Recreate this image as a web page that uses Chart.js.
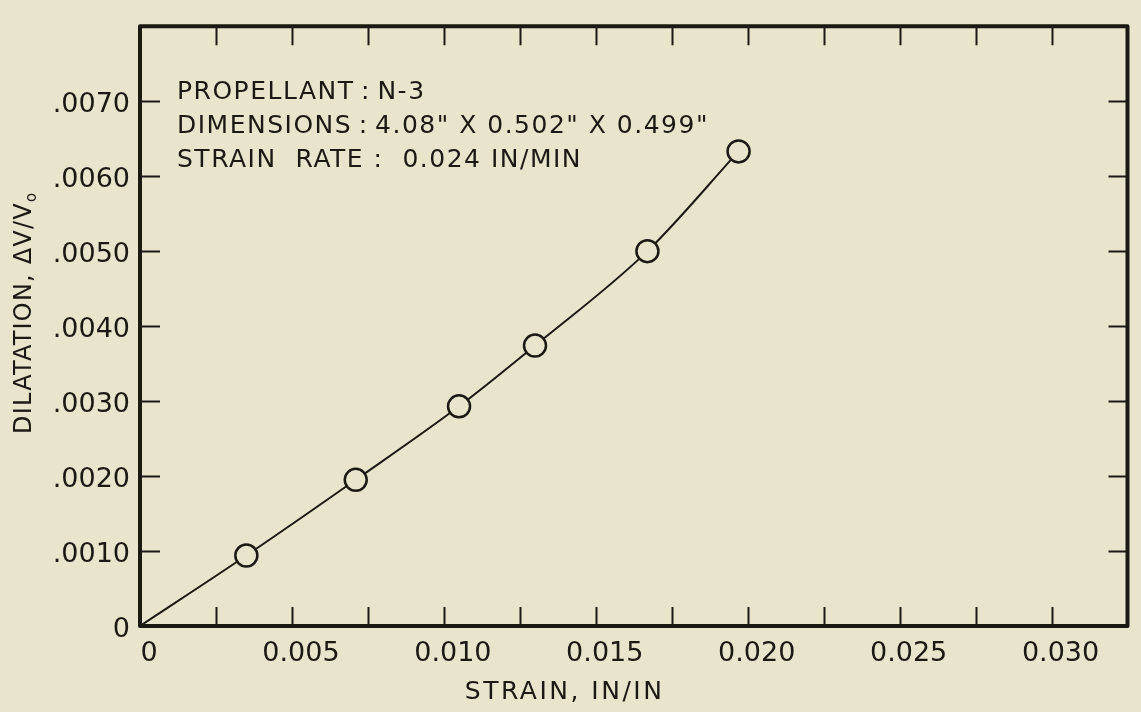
<!DOCTYPE html>
<html>
<head>
<meta charset="utf-8">
<script src="https://cdn.jsdelivr.net/npm/chart.js@4.4.1/dist/chart.umd.min.js"></script>
<style>
  html, body { margin: 0; padding: 0; background: #e8e5cc; }
  #wrap { width: 1141px; height: 712px; }
</style>
</head>
<body>
<div id="wrap"><canvas id="chart" width="1141" height="712"></canvas></div>
<script>
// Measured dilatation of propellant N-3 versus strain
const strain     = [0, 0.0035, 0.0071, 0.0105, 0.0130, 0.0167, 0.0197];
const dilatation = [0, 0.00094, 0.00195, 0.00293, 0.00374, 0.0050, 0.00633];

// Axis ticks (every mark gets a tick, only some get a label)
const strainTicks = [0, 0.0025, 0.005, 0.0075, 0.010, 0.0125, 0.015, 0.0175, 0.020, 0.0225, 0.025, 0.0275, 0.030, 0.0325];
const strainTickLabels = ['0', '', '0.005', '', '0.010', '', '0.015', '', '0.020', '', '0.025', '', '0.030', ''];
const dilatationTicks = [0, 0.001, 0.002, 0.003, 0.004, 0.005, 0.006, 0.007, 0.008];
const dilatationTickLabels = ['0', '.0010', '.0020', '.0030', '.0040', '.0050', '.0060', '.0070', ''];

// Text
const noteLines = [
  'PROPELLANT\u2009:\u2009N-3',
  'DIMENSIONS\u2009:\u20094.08" X 0.502" X 0.499"',
  'STRAIN  RATE :  0.024 IN/MIN'
];
const xTitle = 'STRAIN, IN/IN';
const yTitle = 'DILATATION, \u0394V/V';
const yTitleSub = 'o';

const INK = '#1c1814';
const PAPER = '#e8e5cc';
const FONT = '"DejaVu Sans", "Noto Sans", sans-serif';
const TICK = 19;

// Paper background
const paperPlugin = {
  id: 'paper',
  beforeDraw(chart) {
    const ctx = chart.ctx;
    ctx.save();
    ctx.fillStyle = PAPER;
    ctx.fillRect(0, 0, chart.width, chart.height);
    ctx.restore();
  }
};

// Boxed frame with inward ticks, note block and axis titles
const framePlugin = {
  id: 'frame',
  afterDatasetsDraw(chart) {
    const { ctx, chartArea: a, scales: { x, y } } = chart;
    ctx.save();
    ctx.strokeStyle = INK;
    ctx.lineJoin = 'round';
    ctx.lineWidth = 4;
    ctx.strokeRect(a.left, a.top, a.right - a.left, a.bottom - a.top);

    ctx.lineWidth = 2;
    ctx.beginPath();
    x.ticks.forEach(t => {
      if (t.value <= x.min || t.value >= x.max) return;
      const px = Math.round(x.getPixelForValue(t.value)) + 0.5;
      ctx.moveTo(px, a.bottom); ctx.lineTo(px, a.bottom - TICK);
      ctx.moveTo(px, a.top);    ctx.lineTo(px, a.top + TICK);
    });
    y.ticks.forEach(t => {
      if (t.value <= y.min || t.value >= y.max) return;
      const py = Math.round(y.getPixelForValue(t.value)) + 0.5;
      ctx.moveTo(a.left, py);  ctx.lineTo(a.left + TICK + 1, py);
      ctx.moveTo(a.right, py); ctx.lineTo(a.right - TICK, py);
    });
    ctx.stroke();

    ctx.fillStyle = INK;
    ctx.textAlign = 'left';
    ctx.textBaseline = 'alphabetic';
    ctx.font = '25px ' + FONT;
    ctx.letterSpacing = '1.5px';
    noteLines.forEach((line, i) => {
      ctx.fillText(line, a.left + 37, a.top + 73 + i * 34);
    });

    // horizontal axis title
    ctx.font = '25px ' + FONT;
    ctx.letterSpacing = '2.5px';
    ctx.textAlign = 'center';
    ctx.fillText(xTitle, a.left + (a.right - a.left) * 0.43, 699);

    // vertical axis title, read bottom to top
    ctx.translate(31, 312);
    ctx.rotate(-Math.PI / 2);
    ctx.font = '24px ' + FONT;
    ctx.letterSpacing = '1.2px';
    ctx.textAlign = 'left';
    const w = ctx.measureText(yTitle).width;
    const sub = 12;
    const start = -(w + sub) / 2;
    ctx.fillText(yTitle, start, 0);
    ctx.font = '15px ' + FONT;
    ctx.letterSpacing = '0px';
    ctx.fillText(yTitleSub, start + w, 5);
    ctx.restore();
  }
};

new Chart(document.getElementById('chart'), {
  type: 'line',
  data: {
    datasets: [{
      data: strain.map((s, i) => ({ x: s, y: dilatation[i] })),
      borderColor: INK,
      borderWidth: 2,
      cubicInterpolationMode: 'monotone',
      pointRadius: ctx => (ctx.dataIndex === 0 ? 0 : 11),
      pointHoverRadius: ctx => (ctx.dataIndex === 0 ? 0 : 11),
      pointBorderWidth: 2.5,
      pointBorderColor: INK,
      pointBackgroundColor: PAPER,
      fill: false,
      clip: false
    }]
  },
  options: {
    responsive: false,
    animation: false,
    devicePixelRatio: 1,
    layout: { padding: { top: 13, right: 5, left: 0, bottom: 0 } },
    plugins: { legend: { display: false }, tooltip: { enabled: false } },
    events: [],
    scales: {
      x: {
        type: 'linear',
        min: 0,
        max: 0.0325,
        grid: { display: false, drawTicks: false },
        border: { display: false },
        afterBuildTicks: s => { s.ticks = strainTicks.map(v => ({ value: v })); },
        afterFit: s => { s.height = 86; },
        ticks: {
          autoSkip: false,
          maxRotation: 0,
          padding: 12,
          labelOffset: 9,
          color: INK,
          font: { family: FONT, size: 27 },
          callback: (v, i) => strainTickLabels[i]
        }
      },
      y: {
        type: 'linear',
        min: 0,
        max: 0.008,
        grid: { display: false, drawTicks: false },
        border: { display: false },
        afterBuildTicks: s => { s.ticks = dilatationTicks.map(v => ({ value: v })); },
        afterFit: s => { s.width = 140; },
        ticks: {
          autoSkip: false,
          padding: 10,
          labelOffset: 4,
          color: INK,
          font: { family: FONT, size: 27 },
          callback: (v, i) => dilatationTickLabels[i]
        }
      }
    }
  },
  plugins: [paperPlugin, framePlugin]
});
</script>
</body>
</html>
